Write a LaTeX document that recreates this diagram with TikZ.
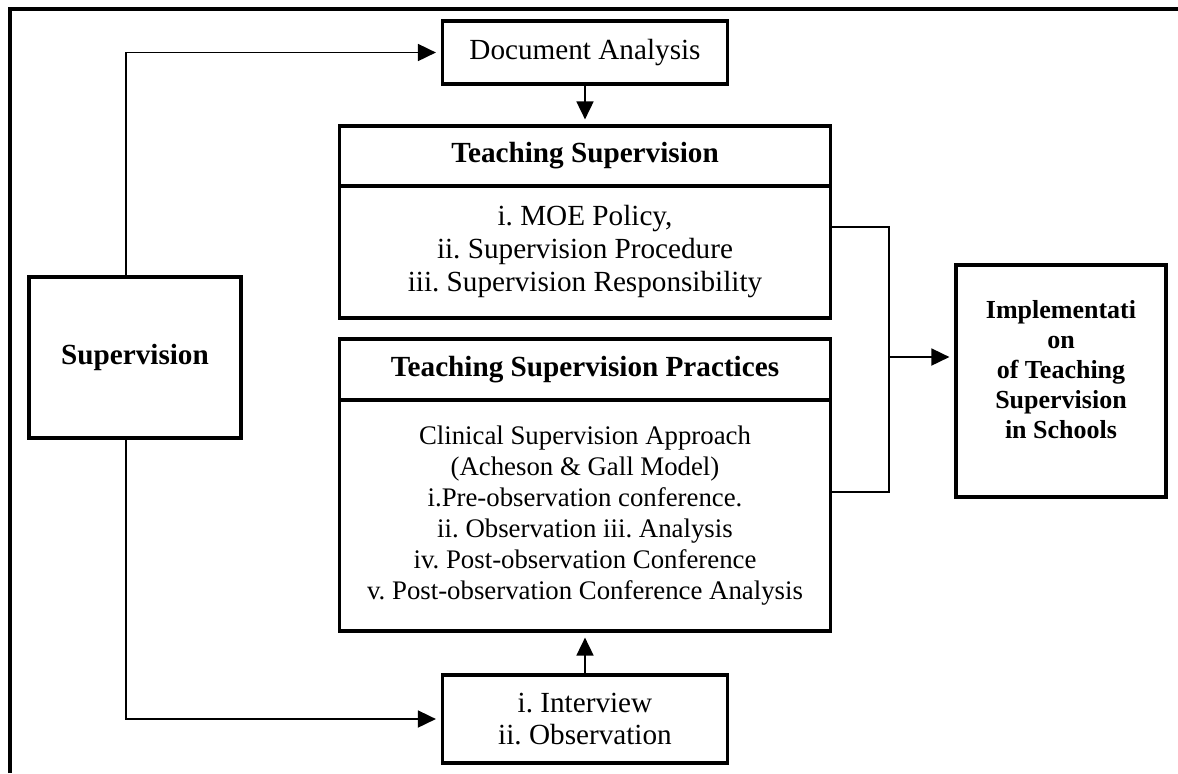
\documentclass[tikz,border=0pt]{standalone}
\usepackage{fontspec}
\setmainfont{Liberation Serif}
\usetikzlibrary{arrows.meta}
\frenchspacing

\tikzset{
  box/.style={draw,line width=1.6pt,inner sep=0pt,align=center,font=\fontsize{14.6}{16}\selectfont},
  boldbox/.style={box,font=\bfseries\fontsize{14.6}{16}\selectfont},
  arr/.style={line width=0.9pt,shorten >=2.5pt,-{Triangle[length=9pt,width=8.5pt]}},
  link/.style={line width=0.7pt},
}

\begin{document}
\begin{tikzpicture}[x=0.5pt,y=-0.5pt]
\useasboundingbox (0,0) rectangle (1178,773);
\draw[line width=1.6pt] (10,773) -- (10,9) -- (1178,9);

\node[boldbox,minimum width=106pt,minimum height=80.5pt] (supv) at (135,357.5) {Supervision};
\node[box,minimum width=142.5pt,minimum height=31.5pt] (docan) at (585,52.5) {Document Analysis};
\node[boldbox,minimum width=245.5pt,minimum height=30pt] (tstitle) at (585,156) {Teaching Supervision};
\node[box,minimum width=245.5pt,minimum height=66pt,font=\fontsize{14.6}{16.5}\selectfont] (tsbody) at (585,252)
  {i. MOE Policy,\\ ii. Supervision Procedure\\ iii. Supervision Responsibility};
\node[boldbox,minimum width=245.5pt,minimum height=30.5pt] (tsptitle) at (585,369.5) {Teaching Supervision Practices};
\node[box,minimum width=245.5pt,minimum height=115.5pt,font=\fontsize{13.4}{15.5}\selectfont] (tspbody) at (585,515.5)
  {Clinical Supervision Approach\\ (Acheson \& Gall Model)\\ i.Pre-observation conference.\\
   ii. Observation iii. Analysis\\ iv. Post-observation Conference\\ v. Post-observation Conference Analysis};
\node[box,minimum width=142.5pt,minimum height=44pt] (interv) at (585,719) {i. Interview\\ ii. Observation};
\node[box,minimum width=105pt,minimum height=116pt,font=\bfseries\fontsize{13}{15}\selectfont] (impl) at (1061,381)
  {Implementati\\ on\\ of Teaching\\ Supervision\\ in Schools\\[-3pt]~};

\coordinate (jn) at (889,357);
\draw[arr] ([xshift=-4.5pt]supv.north) |- (docan.west);
\draw[arr] ([xshift=-4.5pt]supv.south) |- (interv.west);
\draw[arr] (docan.south) -- (tstitle.north);
\draw[arr] (interv.north) -- (tspbody.south);
\draw[link] ([yshift=12.5pt]tsbody.east) -| (jn) |- ([yshift=11.75pt]tspbody.east);
\draw[arr] (jn) -- (jn -| impl.west);
\end{tikzpicture}
\end{document}
